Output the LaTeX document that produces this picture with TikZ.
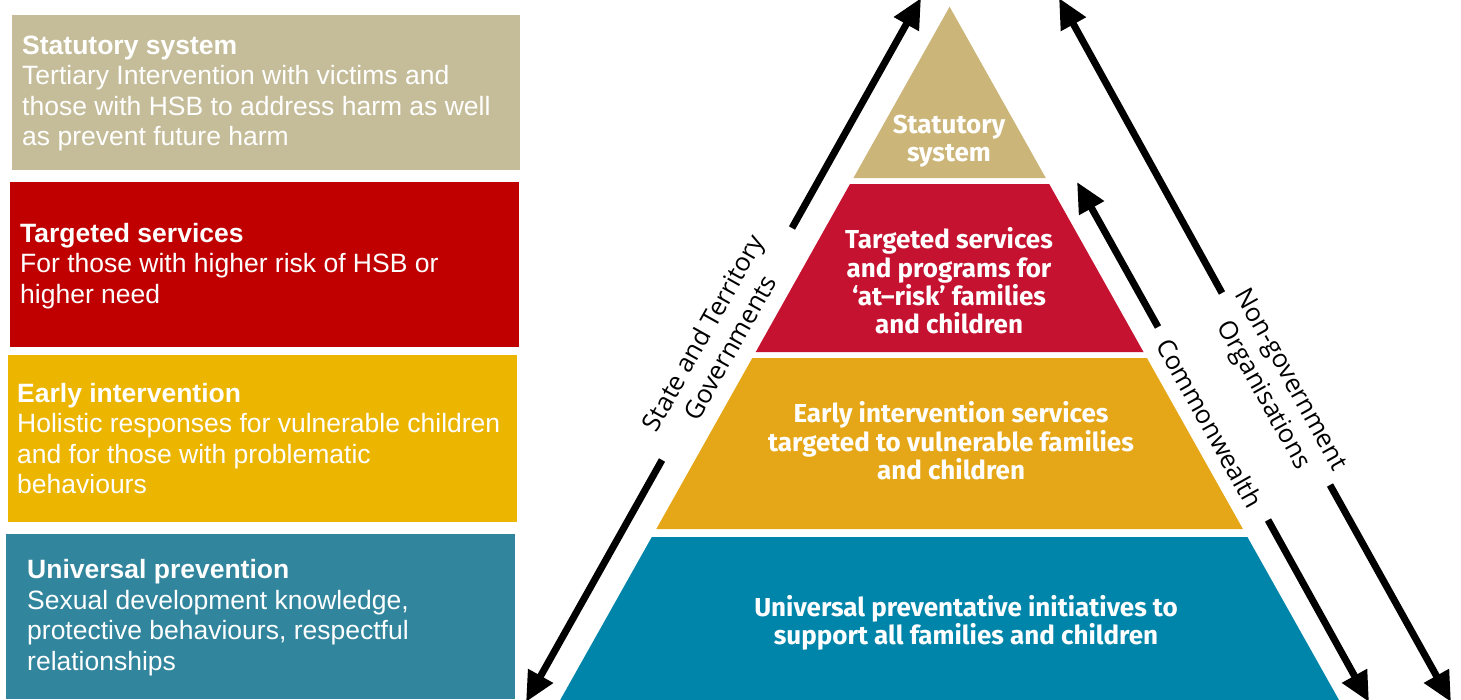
\documentclass[tikz,border=0pt]{standalone}
\usepackage{fontspec}
\setmainfont{Liberation Sans}
\newfontfamily\pyrfont{Fira Sans}
\newfontfamily\govfont{Open Sans}
\usetikzlibrary{positioning,arrows.meta,calc}

% tier colours: boxes on the left, bands of the pyramid
\definecolor{boxStat}{HTML}{C5BD99}
\definecolor{boxTarg}{HTML}{C00000}
\definecolor{boxEarly}{HTML}{ECB500}
\definecolor{boxUniv}{HTML}{31859C}
\definecolor{pyrStat}{HTML}{CBB579}
\definecolor{pyrTarg}{HTML}{C41230}
\definecolor{pyrEarly}{HTML}{E5A718}
\definecolor{pyrUniv}{HTML}{0085AA}

\tikzset{
  tierbox/.style={rectangle, inner sep=0pt, anchor=north west},
  tiertext/.style={anchor=west, align=left, text=white, inner sep=0pt,
                   font=\fontsize{26.5}{30.5}\selectfont},
  bandtext/.style={align=center, text=white, inner sep=0pt,
                   font=\pyrfont\bfseries\fontsize{26}{28.4}\selectfont},
  govlab/.style={align=center, inner sep=0pt,
                 font=\govfont\fontsize{25.5}{31}\selectfont},
  govarrow/.style={line width=7pt, -{Triangle[length=30pt,width=27pt]}},
}

\begin{document}
\begin{tikzpicture}[x=1pt, y=-1pt]
  \useasboundingbox (0,0) rectangle (1461,699);

  % left column
  \node[tierbox, fill=boxStat, minimum width=508pt, minimum height=155pt] (bStat) at (12,15) {};
  \node[tierbox, fill=boxTarg, minimum width=509pt, minimum height=165pt] (bTarg) at (10,182) {};
  \node[tierbox, fill=boxEarly, minimum width=509pt, minimum height=167pt] (bEarly) at (8,355) {};
  \node[tierbox, fill=boxUniv, minimum width=509pt, minimum height=165pt] (bUniv) at (6,534) {};

  \node[tiertext] (tStat) at ([xshift=10pt,yshift=-1pt]bStat.west)
    {\textbf{Statutory system}\\Tertiary Intervention with victims and\\those with HSB to address harm as well\\as prevent future harm};
  \node[tiertext] (tTarg) at ([xshift=10pt,yshift=-1pt]bTarg.west)
    {\textbf{Targeted services}\\For those with higher risk of HSB or\\higher need};
  \node[tiertext] (tEarly) at ([xshift=9pt]bEarly.west)
    {\textbf{Early intervention}\\Holistic responses for vulnerable children\\and for those with problematic\\behaviours};
  \node[tiertext] (tUniv) at ([xshift=21pt,yshift=-1pt]bUniv.west)
    {\textbf{Universal prevention}\\Sexual development knowledge,\\protective behaviours, respectful\\relationships};

  % pyramid bands
  \fill[pyrStat] (949.6,6.7) -- (1045.8,178) -- (853.4,178) -- cycle;
  \fill[pyrTarg] (850.0,184) -- (1049.2,184) -- (1143.5,352) -- (755.7,352) -- cycle;
  \fill[pyrEarly] (752.3,358) -- (1146.9,358) -- (1242.9,529) -- (656.3,529) -- cycle;
  \fill[pyrUniv] (651.8,537) -- (1247.4,537) -- (1341.8,705) -- (557.4,705) -- cycle;

  \node[bandtext] (pStat) at (949,141) {Statutory\\system};
  \node[bandtext] (pTarg) at (949,281) {Targeted services\\and programs for\\‘at–risk’ families\\and children};
  \node[bandtext] (pEarly) at (951,441) {Early intervention services\\targeted to vulnerable families\\and children};
  \node[bandtext] (pUniv) at (966,623) {Universal preventative initiatives to\\support all families and children};

  % who delivers: three two-way arrows
  \node[govlab, rotate=60.7] (lState) at (716,340) {State and Territory\\Governments};
  \node[govlab, rotate=-60.7] (lComm) at (1210,423) {Commonwealth};
  \node[govlab, rotate=-60.7] (lNgo) at (1276,388) {Non-government\\Organisations};

  \coordinate (sTop) at (921,-2);
  \coordinate (sUp) at (792,228);
  \coordinate (sLow) at (662,460);
  \coordinate (sBot) at (526,702);
  \coordinate (cTop) at (1077,182);
  \coordinate (cUp) at (1158,327);
  \coordinate (cLow) at (1268,520);
  \coordinate (cBot) at (1369,702);
  \coordinate (nTop) at (1059,-2);
  \coordinate (nUp) at (1222,293);
  \coordinate (nLow) at (1330,485);
  \coordinate (nBot) at (1451,702);

  \draw[govarrow] (sUp) -- (sTop);
  \draw[govarrow] (sLow) -- (sBot);
  \draw[govarrow] (cUp) -- (cTop);
  \draw[govarrow] (cLow) -- (cBot);
  \draw[govarrow] (nUp) -- (nTop);
  \draw[govarrow] (nLow) -- (nBot);
\end{tikzpicture}
\end{document}
